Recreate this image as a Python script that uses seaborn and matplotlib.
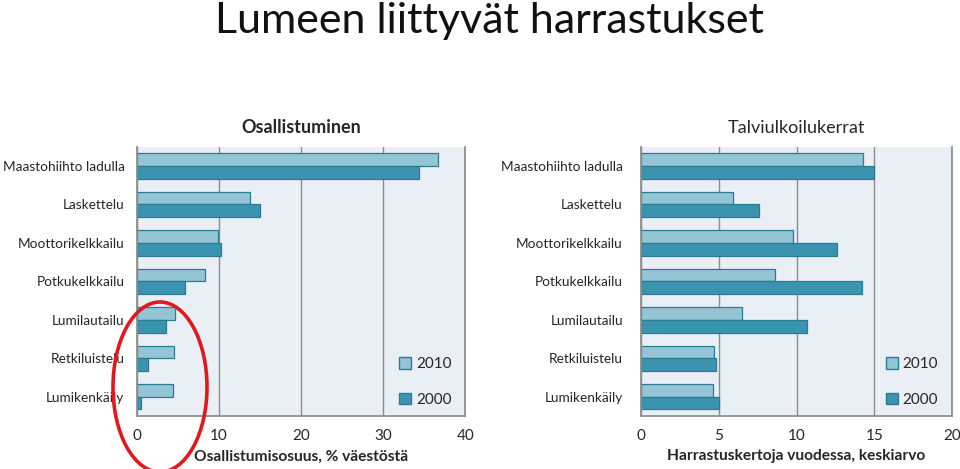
import pandas as pd
import numpy as np
import matplotlib
matplotlib.use("Agg")
import matplotlib.pyplot as plt
import seaborn as sns
from matplotlib.patches import Ellipse, Patch

# Data
activities = ["Maastohiihto ladulla", "Laskettelu", "Moottorikelkkailu",
              "Potkukelkkailu", "Lumilautailu", "Retkiluistelu", "Lumikenkäily"]
years = ["2010", "2000"]

share_2010 = [36.7, 13.8, 9.9, 8.25, 4.6, 4.55, 4.4]
share_2000 = [34.4, 15.0, 10.2, 5.8, 3.5, 1.3, 0.45]

times_2010 = [14.3, 5.9, 9.8, 8.6, 6.5, 4.7, 4.6]
times_2000 = [15.0, 7.6, 12.6, 14.2, 10.7, 4.8, 5.0]

COLORS = {"2010": "#93c5d5", "2000": "#3a94af"}
EDGE = "#2b7b92"
BG = "#e9eff4"


def long_df(v2010, v2000):
    return pd.DataFrame({
        "activity": activities * 2,
        "year": ["2010"] * len(activities) + ["2000"] * len(activities),
        "value": list(v2010) + list(v2000),
    })


def draw_panel(ax, df, xmax, step, subtitle, xlabel, sub_bold, label_pad):
    sns.barplot(data=df, x="value", y="activity", hue="year", hue_order=years,
                order=activities, palette=COLORS, orient="h", width=0.66,
                saturation=1, edgecolor=EDGE, linewidth=0.9, ax=ax, legend=False)
    ax.set_facecolor(BG)
    ax.set_xlim(0, xmax)
    ax.set_xticks(np.arange(0, xmax + step, step))
    ax.grid(axis="x", color="#8c8c8c", linewidth=1.0)
    ax.set_axisbelow(True)
    ax.spines["top"].set_visible(False)
    for s in ["left", "bottom", "right"]:
        ax.spines[s].set_color("#8c8c8c")
    ax.tick_params(axis="y", length=0, pad=label_pad, labelsize=9.8)
    ax.tick_params(axis="x", length=0, pad=9, labelsize=11)
    # small tick marks between categories
    ax.set_yticks(np.arange(-0.5, len(activities), 1.0), minor=True)
    ax.tick_params(axis="y", which="minor", length=4, color="#8c8c8c")
    ax.set_ylim(len(activities) - 0.5, -0.5)
    ax.set_ylabel("")
    ax.set_xlabel(xlabel, fontsize=11.2, fontweight="bold", labelpad=5)
    ax.set_title(subtitle, fontsize=13, fontweight="bold" if sub_bold else "normal", pad=10)
    handles = [Patch(facecolor=COLORS[y], edgecolor=EDGE, label=y) for y in years]
    ax.legend(handles=handles, loc="lower right", frameon=False, fontsize=11,
              handlelength=0.8, handleheight=0.8, labelspacing=1.4,
              handletextpad=0.3, bbox_to_anchor=(1.0, -0.017))


sns.set_theme(style="white")
plt.rcParams["font.family"] = ["Lato", "DejaVu Sans"]

fig = plt.figure(figsize=(9.6, 4.69), dpi=100)
ax1 = fig.add_axes([0.1427, 0.113, 0.342, 0.574])
ax2 = fig.add_axes([0.6677, 0.113, 0.324, 0.574])

draw_panel(ax1, long_df(share_2010, share_2000), 40, 10, "Osallistuminen",
           "Osallistumisosuus, % väestöstä", True, 9)
draw_panel(ax2, long_df(times_2010, times_2000), 20, 5, "Talviulkoilukerrat",
           "Harrastuskertoja vuodessa, keskiarvo", False, 13)

fig.text(0.51, 0.955, "Lumeen liittyvät harrastukset", ha="center", va="center",
         fontsize=31, color="#111111")

# red highlight ellipse over the small values
ell = Ellipse((160 / 960, 1 - 387 / 469), 94 / 960, 170 / 469,
              transform=fig.transFigure, fill=False, edgecolor="#e0191e",
              linewidth=2.6, zorder=10)
fig.patches.append(ell)

fig.savefig("out.png", dpi=100)
